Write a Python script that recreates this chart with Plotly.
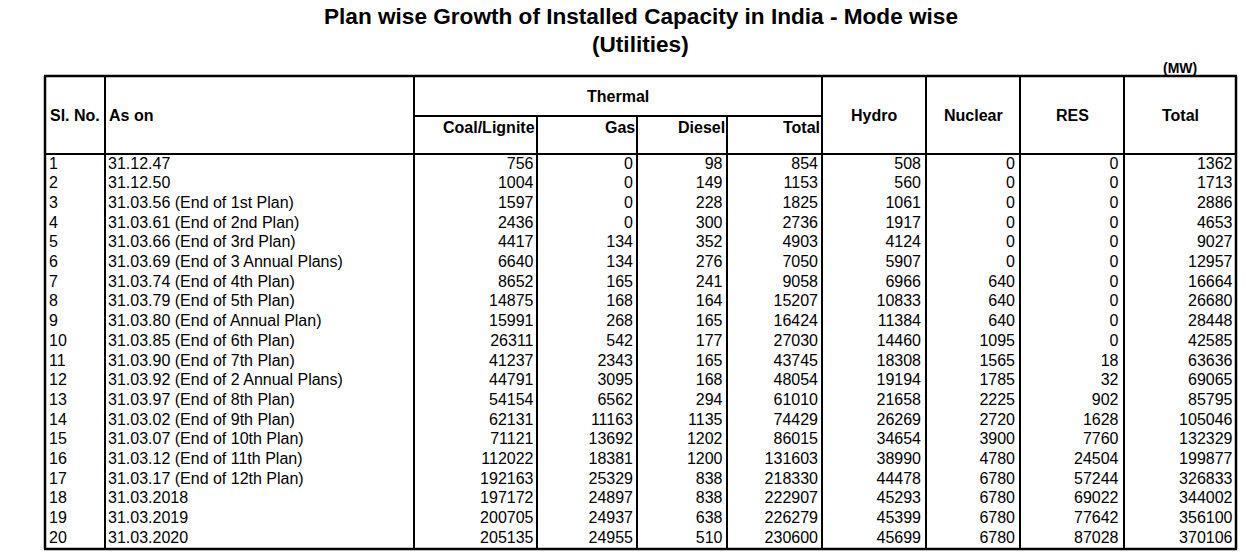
import plotly.graph_objects as go

# ---------------- data ----------------
sl_no = list(range(1, 21))
as_on = [
    "31.12.47", "31.12.50", "31.03.56 (End of 1st Plan)", "31.03.61 (End of 2nd Plan)",
    "31.03.66 (End of 3rd Plan)", "31.03.69 (End of 3 Annual Plans)", "31.03.74 (End of 4th Plan)",
    "31.03.79 (End of 5th Plan)", "31.03.80 (End of Annual Plan)", "31.03.85 (End of 6th Plan)",
    "31.03.90 (End of 7th Plan)", "31.03.92 (End of 2 Annual Plans)", "31.03.97 (End of 8th Plan)",
    "31.03.02 (End of 9th Plan)", "31.03.07 (End of 10th Plan)", "31.03.12 (End of 11th Plan)",
    "31.03.17 (End of 12th Plan)", "31.03.2018", "31.03.2019", "31.03.2020",
]
coal = [756, 1004, 1597, 2436, 4417, 6640, 8652, 14875, 15991, 26311, 41237, 44791, 54154,
        62131, 71121, 112022, 192163, 197172, 200705, 205135]
gas = [0, 0, 0, 0, 134, 134, 165, 168, 268, 542, 2343, 3095, 6562, 11163, 13692, 18381,
       25329, 24897, 24937, 24955]
diesel = [98, 149, 228, 300, 352, 276, 241, 164, 165, 177, 165, 168, 294, 1135, 1202, 1200,
          838, 838, 638, 510]
thermal_total = [854, 1153, 1825, 2736, 4903, 7050, 9058, 15207, 16424, 27030, 43745, 48054,
                 61010, 74429, 86015, 131603, 218330, 222907, 226279, 230600]
hydro = [508, 560, 1061, 1917, 4124, 5907, 6966, 10833, 11384, 14460, 18308, 19194, 21658,
         26269, 34654, 38990, 44478, 45293, 45399, 45699]
nuclear = [0, 0, 0, 0, 0, 0, 640, 640, 640, 1095, 1565, 1785, 2225, 2720, 3900, 4780, 6780,
           6780, 6780, 6780]
res = [0, 0, 0, 0, 0, 0, 0, 0, 0, 0, 18, 32, 902, 1628, 7760, 24504, 57244, 69022, 77642, 87028]
total = [1362, 1713, 2886, 4653, 9027, 12957, 16664, 26680, 28448, 42585, 63636, 69065, 85795,
         105046, 132329, 199877, 326833, 344002, 356100, 370106]

title_lines = ["Plan wise Growth of Installed Capacity in India - Mode wise", "(Utilities)"]
unit_label = "(MW)"
group_label = "Thermal"
thermal_headers = ["Coal/Lignite", "Gas", "Diesel", "Total"]
other_headers = ["Hydro", "Nuclear", "RES", "Total"]

# ---------------- layout geometry (pixels) ----------------
W, H = 1246, 553
FONT = "Liberation Sans, Arial, sans-serif"
TOP, SUB, HDR, BOT = 76, 116, 154, 549
ROW0, ROWH = 164.5, 19.7
vlines = [45, 105, 414, 537, 637, 727, 822, 926, 1020, 1124, 1236]


def row_y(n):
    return ROW0 + (n - 1) * ROWH


fig = go.Figure()

# left-aligned text columns
fig.add_trace(go.Scatter(x=[49] * len(sl_no), y=[row_y(n) for n in sl_no],
                         text=[str(n) for n in sl_no], mode="text",
                         textposition="middle right", hoverinfo="skip",
                         textfont=dict(family=FONT, size=16, color="black")))
fig.add_trace(go.Scatter(x=[108] * len(sl_no), y=[row_y(n) for n in sl_no],
                         text=as_on, mode="text",
                         textposition="middle right", hoverinfo="skip",
                         textfont=dict(family=FONT, size=16, color="black")))

# right-aligned numeric columns
num_cols = [(coal, 533.5), (gas, 633), (diesel, 722.5), (thermal_total, 818),
            (hydro, 921), (nuclear, 1015), (res, 1118.5), (total, 1232.5)]
for vals, xr in num_cols:
    fig.add_trace(go.Scatter(x=[xr] * len(vals), y=[row_y(n) for n in sl_no],
                             text=[str(v) for v in vals], mode="text",
                             textposition="middle left", hoverinfo="skip",
                             textfont=dict(family=FONT, size=16, color="black")))

# ---------------- lines ----------------
shapes = []
def line(x0, y0, x1, y1, w=2):
    shapes.append(dict(type="line", x0=x0, y0=y0, x1=x1, y1=y1, xref="x", yref="y",
                       line=dict(color="black", width=w)))

line(vlines[0] - 1, TOP, vlines[-1] + 1, TOP, 2.5)
line(vlines[0] - 1, BOT, vlines[-1] + 1, BOT, 2.5)
line(vlines[0], HDR, vlines[-1], HDR)
line(vlines[2], SUB, vlines[6], SUB)
for i, x in enumerate(vlines):
    y0 = SUB if i in (3, 4, 5) else TOP
    line(x, y0, x, BOT, 2.5 if i in (0, len(vlines) - 1) else 2)

# ---------------- annotations (titles / headers) ----------------
ann = []
def text(x, y, s, size=16, xanchor="center", bold=True):
    ann.append(dict(x=x, y=y, xref="x", yref="y", text=f"<b>{s}</b>" if bold else s,
                    showarrow=False, xanchor=xanchor, yanchor="middle",
                    font=dict(family=FONT, size=size, color="black")))

text(641, 16.5, title_lines[0], size=22.6)
text(640, 44.5, title_lines[1], size=22.6)
text(1180, 68, unit_label, size=14)
text(48, 115, "Sl. No.", xanchor="left")
text(107, 115, "As on", xanchor="left")
text((vlines[2] + vlines[6]) / 2, 96, group_label)
for s, xr in zip(thermal_headers, [535, 635, 725, 820]):
    text(xr + 2, 127, s, xanchor="right")
for i, s in enumerate(other_headers):
    text((vlines[6 + i] + vlines[7 + i]) / 2, 115, s)

fig.update_layout(
    width=W, height=H, margin=dict(l=0, r=0, t=0, b=0),
    paper_bgcolor="white", plot_bgcolor="white", showlegend=False,
    xaxis=dict(range=[0, W], visible=False, fixedrange=True),
    yaxis=dict(range=[H, 0], visible=False, fixedrange=True),
    shapes=shapes, annotations=ann,
)
fig.write_html("out.html", config={"displayModeBar": False},
               post_script="document.body.style.margin='0px';")
